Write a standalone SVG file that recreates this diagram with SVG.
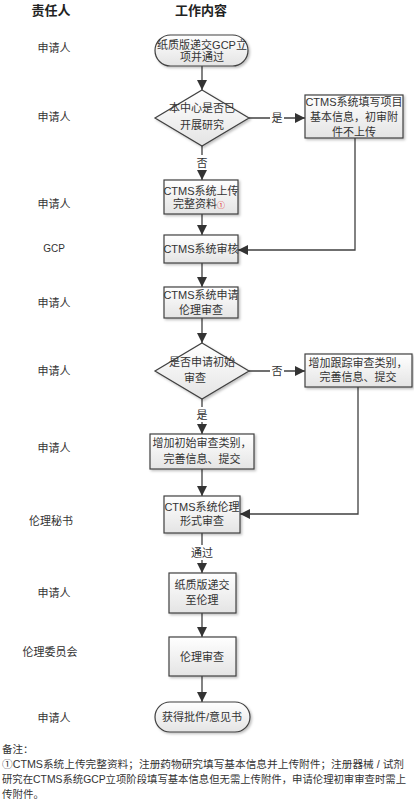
<svg xmlns="http://www.w3.org/2000/svg" width="414" height="803" viewBox="0 0 414 803">
<defs>
<linearGradient id="g" x1="0" y1="0" x2="0" y2="1">
<stop offset="0" stop-color="#ffffff"/>
<stop offset="1" stop-color="#e4e4e4"/>
</linearGradient>
<filter id="sh" x="-10%" y="-10%" width="130%" height="140%">
<feDropShadow dx="1.5" dy="1.5" stdDeviation="1" flood-color="#000" flood-opacity="0.25"/>
</filter>
<marker id="ah" markerUnits="userSpaceOnUse" markerWidth="10" markerHeight="10" viewBox="0 0 10 10" refX="10" refY="5" orient="auto">
<path d="M0,0 L10,5 L0,10 z" fill="#333"/>
</marker>
</defs>
<style>
text{font-family:"Liberation Sans","Noto Sans CJK SC",sans-serif;font-size:11px;fill:#333;text-anchor:middle}
.h{font-size:13px;font-weight:bold;fill:#222}
.n{text-anchor:start;font-size:10.5px}
.shape{fill:url(#g);stroke:#404040;stroke-width:1.2;filter:url(#sh)}
.c{fill:none;stroke:#404040;stroke-width:1.3}
.arr{marker-end:url(#ah)}
.red{fill:#e03030;font-size:8px}
</style>
<rect width="414" height="803" fill="#fff"/>
<g id="headers">
<text class="h" x="51" y="15">责任人</text>
<text class="h" x="201" y="15">工作内容</text>
</g>
<g id="roles">
<text x="54" y="52">申请人</text>
<text x="54" y="121">申请人</text>
<text x="54" y="208">申请人</text>
<text x="54" y="252" style="font-size:10px">GCP</text>
<text x="54" y="307">申请人</text>
<text x="54" y="375">申请人</text>
<text x="54" y="452">申请人</text>
<text x="51" y="525">伦理秘书</text>
<text x="54" y="597">申请人</text>
<text x="50" y="656">伦理委员会</text>
<text x="54" y="722">申请人</text>
</g>
<g id="connectors">
<line class="c arr" x1="202" y1="66" x2="202" y2="90"/>
<line class="c arr" x1="249" y1="118" x2="305" y2="118"/>
<polyline class="c arr" points="355,138 355,250 238,250"/>
<line class="c arr" x1="202" y1="146" x2="202" y2="180"/>
<line class="c arr" x1="202" y1="214" x2="202" y2="235"/>
<line class="c arr" x1="202" y1="263" x2="202" y2="287"/>
<line class="c arr" x1="202" y1="318" x2="202" y2="343"/>
<line class="c arr" x1="249" y1="371" x2="305" y2="371"/>
<polyline class="c arr" points="358,387 358,514 240,514"/>
<line class="c arr" x1="202" y1="399" x2="202" y2="434"/>
<line class="c arr" x1="202" y1="469" x2="202" y2="496"/>
<line class="c arr" x1="202" y1="533" x2="202" y2="573"/>
<line class="c arr" x1="202" y1="613" x2="202" y2="637"/>
<line class="c arr" x1="202" y1="676" x2="202" y2="702"/>
<rect x="270" y="110" width="14" height="15" fill="#fff"/>
<text x="277" y="122">是</text>
<rect x="195" y="155" width="14" height="15" fill="#fff"/>
<text x="202" y="167">否</text>
<rect x="270" y="363" width="14" height="15" fill="#fff"/>
<text x="277" y="375">否</text>
<rect x="195" y="407" width="14" height="15" fill="#fff"/>
<text x="202" y="419">是</text>
<rect x="189" y="545" width="26" height="15" fill="#fff"/>
<text x="202" y="557">通过</text>
</g>
<g id="start">
<rect class="shape" x="155" y="35" width="93" height="31" rx="15.5"/>
<text x="202" y="49">纸质版递交GCP立</text>
<text x="202" y="61">项并通过</text>
</g>
<g id="d1">
<polygon class="shape" points="202,90 249,118 202,146 155,118"/>
<text x="202" y="112">本中心是否已</text>
<text x="202" y="129">开展研究</text>
</g>
<g id="boxA">
<rect class="shape" x="305" y="95" width="98" height="43"/>
<text x="354" y="106">CTMS系统填写项目</text>
<text x="354" y="121">基本信息，初审附</text>
<text x="354" y="136">件不上传</text>
</g>
<g id="boxB">
<rect class="shape" x="164" y="180" width="74" height="34"/>
<text x="201" y="195">CTMS系统上传</text>
<text x="199" y="208">完整资料<tspan class="red">①</tspan></text>
</g>
<g id="boxC">
<rect class="shape" x="164" y="235" width="74" height="28"/>
<text x="201" y="253">CTMS系统审核</text>
</g>
<g id="boxD">
<rect class="shape" x="164" y="287" width="74" height="31"/>
<text x="201" y="299">CTMS系统申请</text>
<text x="201" y="314">伦理审查</text>
</g>
<g id="d2">
<polygon class="shape" points="202,343 249,371 202,399 155,371"/>
<text x="202" y="366">是否申请初始</text>
<text x="195" y="382">审查</text>
</g>
<g id="boxE">
<rect class="shape" x="305" y="354" width="107" height="33"/>
<text x="358" y="367">增加跟踪审查类别，</text>
<text x="358" y="381">完善信息、提交</text>
</g>
<g id="boxF">
<rect class="shape" x="150" y="434" width="104" height="35"/>
<text x="202" y="447">增加初始审查类别，</text>
<text x="202" y="463">完善信息、提交</text>
</g>
<g id="boxG">
<rect class="shape" x="164" y="496" width="76" height="37"/>
<text x="202" y="511">CTMS系统伦理</text>
<text x="202" y="525">形式审查</text>
</g>
<g id="boxH">
<rect class="shape" x="169" y="573" width="67" height="40"/>
<text x="202" y="589">纸质版递交</text>
<text x="202" y="604">至伦理</text>
</g>
<g id="boxI">
<rect class="shape" x="169" y="637" width="67" height="39"/>
<text x="202" y="661">伦理审查</text>
</g>
<g id="end">
<rect class="shape" x="155" y="702" width="95" height="30" rx="15"/>
<text x="202" y="721">获得批件/意见书</text>
</g>
<g id="notes">
<text class="n" x="2" y="753">备注：</text>
<text class="n" x="2" y="768" textLength="402" lengthAdjust="spacingAndGlyphs">①CTMS系统上传完整资料；注册药物研究填写基本信息并上传附件；注册器械 / 试剂</text>
<text class="n" x="2" y="783" textLength="404" lengthAdjust="spacingAndGlyphs">研究在CTMS系统GCP立项阶段填写基本信息但无需上传附件，申请伦理初审审查时需上</text>
<text class="n" x="2" y="798">传附件。</text>
</g>
</svg>
